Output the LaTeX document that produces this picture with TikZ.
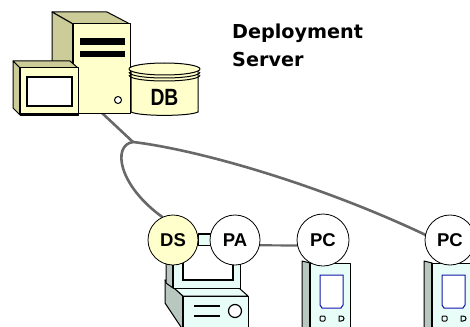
\documentclass[tikz,border=0pt]{standalone}
\usepackage{fontspec}
\usepackage{graphicx}
\setmainfont{Liberation Sans}
\newfontfamily\titlefont{DejaVu Sans}

\definecolor{srvfront}{RGB}{255,255,204}
\definecolor{srvside}{RGB}{204,204,153}
\definecolor{devfront}{RGB}{232,252,248}
\definecolor{devside}{RGB}{184,200,192}
\definecolor{cable}{RGB}{104,104,104}
\definecolor{screenblue}{RGB}{20,20,170}

\pgfdeclarelayer{cables}
\pgfsetlayers{cables,main}

\begin{document}
\begin{tikzpicture}[x=1pt,y=-1pt,
  outline/.style={draw=black,line width=1pt,line join=round},
  heavy/.style={draw=black,line width=2.6pt},
  wire/.style={draw=cable,line width=2.6pt,line cap=round},
  hub/.style={circle,draw=black,line width=0.8pt,minimum size=50pt,inner sep=0pt,
    fill=white,font=\fontsize{18.5}{18.5}\selectfont\bfseries},
  title/.style={anchor=base west,inner sep=0pt,
    font=\titlefont\fontsize{19.2}{20}\selectfont\bfseries},
  pda/.pic={
    % side panel
    \path[fill=devside,outline] (-8,-2) -- (0,0) -- (0,72) -- (-8,66) -- cycle;
    % front panel
    \path[fill=devfront,outline] (0,0) rectangle (40,72);
    \draw[heavy] (0,0) -- (0,72);
    % screen
    \path[fill=white,draw=screenblue,line width=1pt]
      (10,12) -- (33,12) -- (33,42) -- (31,45) -- (12,45) -- (10,42) -- cycle;
    % buttons
    \draw[line width=1pt,rounded corners=1pt] (10,53) rectangle (15,58);
    \draw[line width=1pt] (29,53) -- (31,53) .. controls (35,53) and (35,58) .. (31,58) -- (29,58) -- cycle;
  }]
\useasboundingbox (0,0) rectangle (470,326);
\clip (0,0) rectangle (470,326);

% ---------- deployment server tower ----------
\path[fill=srvside,outline] (52,12) -- (107,12) -- (130,24) -- (73,24) -- cycle;
\path[fill=srvside,outline] (52,12) -- (73,24) -- (73,113) -- (52,101) -- cycle;
\path[fill=srvfront,outline] (73,24) rectangle (130,113);
\draw[heavy] (73,24) -- (73,113);
\fill (80,38) rectangle (125,45);
\fill (80,51) rectangle (125,57);
\draw[fill=white,line width=1pt] (118,100) circle (3.5);
\coordinate (srvport) at (102,113);

% server monitor
\path[fill=srvside,outline] (13,61) -- (70,61) -- (78,68) -- (20,68) -- cycle;
\path[fill=srvside,outline] (13,61) -- (20,68) -- (20,115) -- (13,108) -- cycle;
\path[fill=srvfront,outline] (20,68) rectangle (78,115);
\draw[heavy] (20,68) -- (20,114) -- (78,114);
\path[fill=white,draw=black,line width=1.6pt] (27,77) rectangle (72,106);

% database cylinder
\path[fill=srvfront] (131,70) -- (131,112) .. controls (140,116.5) and (189,116.5) .. (198,112) -- (198,70) -- cycle;
\draw[line width=1pt] (131,70) -- (131,112) .. controls (140,116.5) and (189,116.5) .. (198,112) -- (198,70);
\path[fill=srvfront,outline] (164.5,69) ellipse [x radius=35.5, y radius=6];
\draw[line width=1pt] (129,72) .. controls (129,80) and (200,80) .. (200,72);
\draw[line width=1pt] (129,75) .. controls (129,83) and (200,83) .. (200,75);
\node[inner sep=0pt,font=\fontsize{23.5}{24}\selectfont\bfseries] (db) at (164.5,97)
  {\scalebox{0.82}[1]{DB}};

% ---------- title ----------
\node[title] (t1) at (232,39) {Deployment};
\node[title] (t2) at (232,67) {Server};

% ---------- desktop computer ----------
% base unit
\path[fill=devside,outline] (165,280) -- (183,296) -- (183,330) -- (165,303) -- cycle;
\path[fill=devfront,outline] (165,280) -- (230,280) -- (248,296) -- (183,296) -- cycle;
\path[fill=devfront,outline] (183,296) rectangle (248,332);
\draw[heavy] (183,296) -- (183,332);
\draw[line width=1.6pt] (194,306) -- (220,306) (194,316) -- (220,316);
\draw[fill=white,line width=1.2pt] (235,311) circle (6.5);
% monitor
\path[fill=devside,outline] (166,258) -- (173,262) -- (173,288) -- (166,283) -- cycle;
\path[fill=devfront] (173,260) rectangle (240,288);
\draw[line width=1pt] (240,260) -- (240,288) -- (173,288);
\draw[heavy] (173,260) -- (173,288);
\path[fill=white] (183,260) rectangle (233,280);
\draw[line width=1.4pt] (183,260) -- (183,280) -- (233,280) -- (233,260);

% link plug between DS and PA
\path[fill=devfront,draw=black,line width=1pt] (198,233) rectangle (212,245);
\draw[line width=2.4pt] (198,234) -- (212,234);

% ---------- handheld clients ----------
\pic at (310,263) {pda};
\pic at (432,263) {pda};

% ---------- hub circles ----------
\node[hub,fill=srvfront] (ds) at (173,240) {DS};
\node[hub] (pa) at (235,240) {PA};
\node[hub,minimum size=52pt] (pc1) at (323,240) {PC};
\node[hub] (pc2) at (450,240) {PC};

% ---------- cabling, kept behind everything ----------
\begin{pgfonlayer}{cables}
  \coordinate (junction) at (133,142);
  \draw[wire] (srvport) -- (junction);
  \draw[wire] (junction) .. controls (112,145) and (118,185) .. (ds.115);
  \draw[wire] (junction) .. controls (200,150) and (320,185) .. (pc2.168);
  \draw[wire,line width=2.2pt] (pa.-12) -- (pc1.192);
\end{pgfonlayer}
\end{tikzpicture}
\end{document}
